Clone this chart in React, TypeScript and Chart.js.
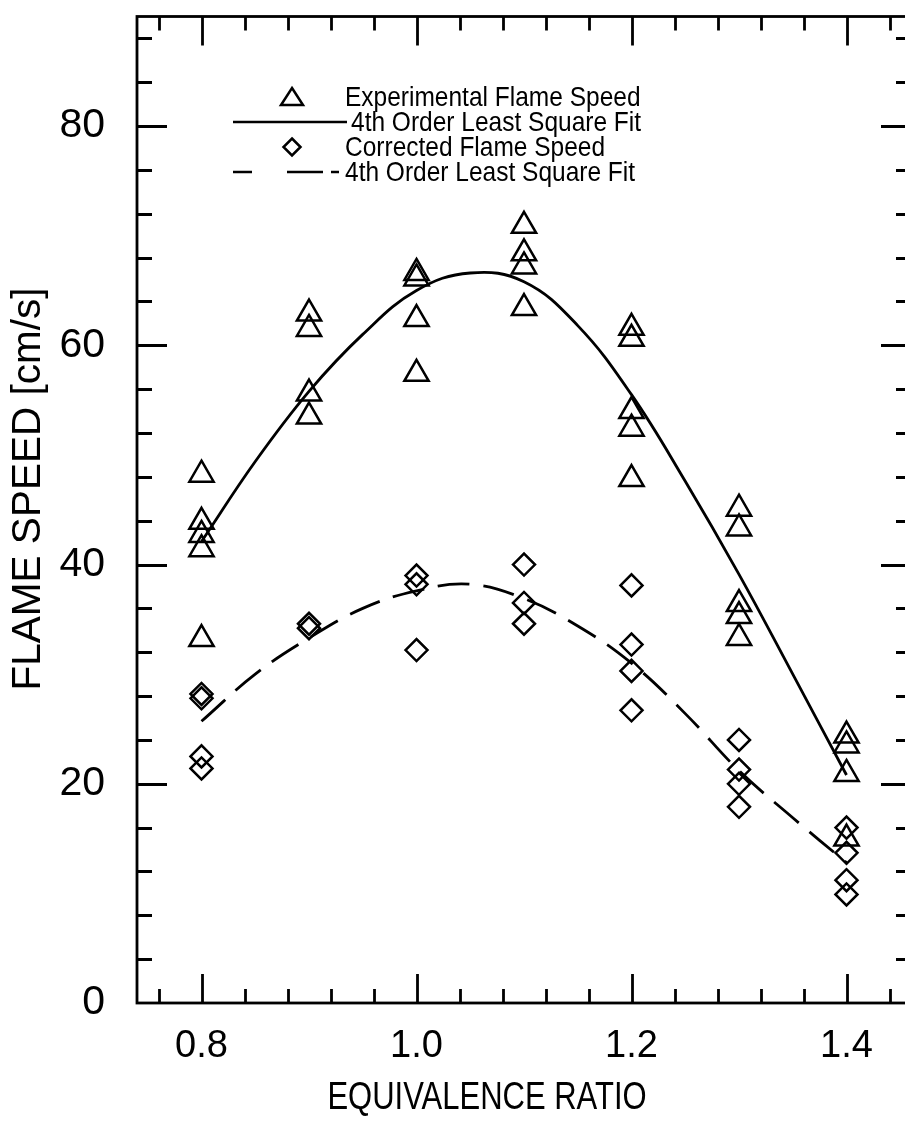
import React, { useEffect, useRef } from 'react';
import { Chart, registerables } from 'chart.js';

Chart.register(...registerables);

// Experimental flame speed (triangles)
const expPhi = [
  0.8, 0.8, 0.8, 0.8, 0.8,
  0.9, 0.9, 0.9, 0.9,
  1.0, 1.0, 1.0, 1.0,
  1.1, 1.1, 1.1, 1.1,
  1.2, 1.2, 1.2, 1.2, 1.2,
  1.3, 1.3, 1.3, 1.3, 1.3,
  1.4, 1.4, 1.4, 1.4,
];
const expSpeed = [
  48.2, 43.9, 42.7, 41.4, 33.2,
  62.9, 61.5, 55.6, 53.5,
  66.6, 66.1, 62.4, 57.4,
  70.9, 68.4, 67.2, 63.4,
  61.6, 60.6, 54.0, 52.4, 47.8,
  45.1, 43.3, 36.4, 35.3, 33.3,
  24.4, 23.5, 20.9, 15.0,
];

// Corrected flame speed (diamonds)
const corPhi = [
  0.8, 0.8, 0.8, 0.8,
  0.9, 0.9,
  1.0, 1.0, 1.0,
  1.1, 1.1, 1.1,
  1.2, 1.2, 1.2, 1.2,
  1.3, 1.3, 1.3, 1.3,
  1.4, 1.4, 1.4, 1.4,
];
const corSpeed = [
  28.2, 27.8, 22.5, 21.4,
  34.6, 34.2,
  39.0, 38.2, 32.2,
  40.0, 36.5, 34.6,
  38.1, 32.7, 30.3, 26.7,
  24.0, 21.3, 20.0, 17.9,
  16.0, 13.7, 11.2, 9.9,
];

// 4th order least-square fit curves
const fitPhi = [0.8, 0.85, 0.9, 0.95, 1.0, 1.05, 1.1, 1.15, 1.2, 1.25, 1.3, 1.35, 1.4];
const expFit = [42.1, 49.4, 55.8, 61.0, 65.0, 66.6, 65.8, 61.8, 55.5, 47.6, 39.1, 30.0, 20.8];
const corFit = [25.7, 30.0, 33.3, 36.0, 37.6, 38.2, 36.9, 34.4, 31.0, 26.4, 21.2, 16.9, 12.8];

// Axes
const xTickLabels = [0.8, 1.0, 1.2, 1.4];
const yTickLabels = [0, 20, 40, 60, 80];
const X_MIN = 0.74;
const X_MAX = 1.46;
const Y_MIN = 0;
const Y_MAX = 90;
const X_MINOR = 0.04;
const Y_MINOR = 4;

const legendItems = [
  { kind: 'triangle', text: 'Experimental Flame Speed' },
  { kind: 'solid', text: '4th Order Least Square Fit' },
  { kind: 'diamond', text: 'Corrected Flame Speed' },
  { kind: 'dashed', text: '4th Order Least Square Fit' },
];

const FONT = '"Liberation Sans", Arial, Helvetica, sans-serif';

const frameAndTicks = {
  id: 'frameAndTicks',
  afterDatasetsDraw(chart: any) {
    const { ctx, chartArea: a, scales } = chart;
    const xs = scales.x;
    const ys = scales.y;
    ctx.save();
    ctx.strokeStyle = '#000';
    ctx.lineWidth = 2.8;
    ctx.lineCap = 'butt';
    ctx.strokeRect(a.left, a.top, a.right - a.left, a.bottom - a.top);
    ctx.beginPath();
    const kx0 = Math.ceil(X_MIN / X_MINOR - 1e-6);
    const kx1 = Math.floor(X_MAX / X_MINOR + 1e-6);
    for (let k = kx0; k <= kx1; k++) {
      const v = k * X_MINOR;
      if (v <= X_MIN + 1e-6 || v >= X_MAX - 1e-6) continue;
      const px = Math.round(xs.getPixelForValue(v)) + 0.5;
      const len = k % 5 === 0 ? 29 : 14;
      ctx.moveTo(px, a.bottom);
      ctx.lineTo(px, a.bottom - len);
      ctx.moveTo(px, a.top);
      ctx.lineTo(px, a.top + len);
    }
    const ky1 = Math.floor(Y_MAX / Y_MINOR + 1e-6);
    for (let k = 1; k <= ky1; k++) {
      const v = k * Y_MINOR;
      if (v >= Y_MAX) continue;
      const py = Math.round(ys.getPixelForValue(v)) + 0.5;
      const len = k % 5 === 0 ? 30 : 15;
      ctx.moveTo(a.left, py);
      ctx.lineTo(a.left + len, py);
      ctx.moveTo(a.right, py);
      ctx.lineTo(a.right - len, py);
    }
    ctx.stroke();
    ctx.restore();
  },
};

const titlesAndLegend = {
  id: 'titlesAndLegend',
  afterDraw(chart: any) {
    const { ctx } = chart;
    ctx.save();
    ctx.fillStyle = '#000';
    ctx.strokeStyle = '#000';
    // axis titles
    ctx.save();
    ctx.translate(487, 1098);
    ctx.scale(1, 1.25);
    ctx.font = `31px ${FONT}`;
    ctx.textAlign = 'center';
    ctx.textBaseline = 'middle';
    ctx.fillText('EQUIVALENCE RATIO', 0, 0);
    ctx.restore();
    ctx.save();
    ctx.translate(29, 489);
    ctx.rotate(-Math.PI / 2);
    ctx.font = `40.5px ${FONT}`;
    ctx.textAlign = 'center';
    ctx.textBaseline = 'middle';
    ctx.fillText('FLAME SPEED [cm/s]', 0, 0);
    ctx.restore();

    // legend
    ctx.font = `24.5px ${FONT}`;
    ctx.textAlign = 'left';
    ctx.textBaseline = 'middle';
    ctx.lineWidth = 2.5;
    const rows = [97, 122, 147, 172];
    legendItems.forEach((it, i) => {
      const y = rows[i];
      ctx.beginPath();
      if (it.kind === 'triangle') {
        ctx.moveTo(292, y - 9);
        ctx.lineTo(303, y + 8);
        ctx.lineTo(281, y + 8);
        ctx.closePath();
        ctx.stroke();
      } else if (it.kind === 'diamond') {
        ctx.moveTo(292, y - 8.5);
        ctx.lineTo(300.5, y);
        ctx.lineTo(292, y + 8.5);
        ctx.lineTo(283.5, y);
        ctx.closePath();
        ctx.stroke();
      } else if (it.kind === 'solid') {
        ctx.moveTo(233, y);
        ctx.lineTo(347, y);
        ctx.stroke();
      } else {
        ctx.moveTo(233, y);
        ctx.lineTo(252, y);
        ctx.moveTo(287, y);
        ctx.lineTo(323, y);
        ctx.moveTo(331, y);
        ctx.lineTo(339, y);
        ctx.stroke();
      }
      const tx = it.kind === 'solid' ? 351 : 345;
      ctx.save();
      ctx.translate(tx, y + 1);
      ctx.scale(1, 1.12);
      ctx.fillText(it.text, 0, 0);
      ctx.restore();
    });
    ctx.restore();
  },
};

export default function App() {
  const ref = useRef<HTMLCanvasElement | null>(null);
  useEffect(() => {
    const canvas = ref.current;
    if (!canvas) return;
    const chart = new Chart(canvas, {
      type: 'scatter',
      data: {
        datasets: [
          {
            label: 'Experimental Flame Speed',
            data: expPhi.map((x, i) => ({ x, y: expSpeed[i] })),
            pointStyle: 'triangle',
            pointRadius: 14,
            pointBorderWidth: 2.5,
            pointBorderColor: '#000',
            pointBackgroundColor: 'rgba(0,0,0,0)',
            showLine: false,
          },
          {
            label: 'Experimental fit',
            data: fitPhi.map((x, i) => ({ x, y: expFit[i] })),
            showLine: true,
            borderColor: '#000',
            borderWidth: 2.8,
            pointRadius: 0,
            tension: 0.4,
            fill: false,
          },
          {
            label: 'Corrected Flame Speed',
            data: corPhi.map((x, i) => ({ x, y: corSpeed[i] })),
            pointStyle: 'rectRot',
            pointRadius: 11,
            pointBorderWidth: 2.5,
            pointBorderColor: '#000',
            pointBackgroundColor: 'rgba(0,0,0,0)',
            showLine: false,
          },
          {
            label: 'Corrected fit',
            data: fitPhi.map((x, i) => ({ x, y: corFit[i] })),
            showLine: true,
            borderColor: '#000',
            borderWidth: 2.8,
            borderDash: [32, 14],
            pointRadius: 0,
            tension: 0.4,
            fill: false,
          },
        ],
      } as any,
      options: {
        responsive: false,
        animation: false,
        layout: { padding: { top: 9, right: 19, left: 0, bottom: 0 } },
        plugins: {
          legend: { display: false },
          tooltip: { enabled: false },
        },
        scales: {
          x: {
            type: 'linear',
            min: X_MIN,
            max: X_MAX,
            grid: { display: false, drawTicks: false },
            border: { display: false },
            afterBuildTicks: (s: any) => {
              s.ticks = xTickLabels.map((v) => ({ value: v }));
            },
            afterFit: (s: any) => {
              s.height = 1138 - 1003;
              s.paddingLeft = 0;
              s.paddingRight = 0;
            },
            ticks: {
              callback: (v: any) => Number(v).toFixed(1),
              font: { family: FONT, size: 38 },
              color: '#000',
              padding: 21,
              maxRotation: 0,
              autoSkip: false,
            },
          },
          y: {
            type: 'linear',
            min: Y_MIN,
            max: Y_MAX,
            grid: { display: false, drawTicks: false },
            border: { display: false },
            afterBuildTicks: (s: any) => {
              s.ticks = yTickLabels.map((v) => ({ value: v }));
            },
            afterFit: (s: any) => {
              s.width = 137;
              s.paddingTop = 0;
              s.paddingBottom = 0;
            },
            ticks: {
              callback: (v: any) => String(v),
              font: { family: FONT, size: 41 },
              color: '#000',
              padding: 32,
              autoSkip: false,
            },
          },
        },
      } as any,
      plugins: [frameAndTicks, titlesAndLegend],
    });
    return () => chart.destroy();
  }, []);
  return (
    <div
      style={{
        position: 'fixed',
        left: 0,
        top: 0,
        width: 905,
        height: 1138,
        overflow: 'hidden',
        background: '#fff',
      }}
    >
      <canvas ref={ref} width={930} height={1138} style={{ display: 'block', width: 930, height: 1138 }} />
    </div>
  );
}
